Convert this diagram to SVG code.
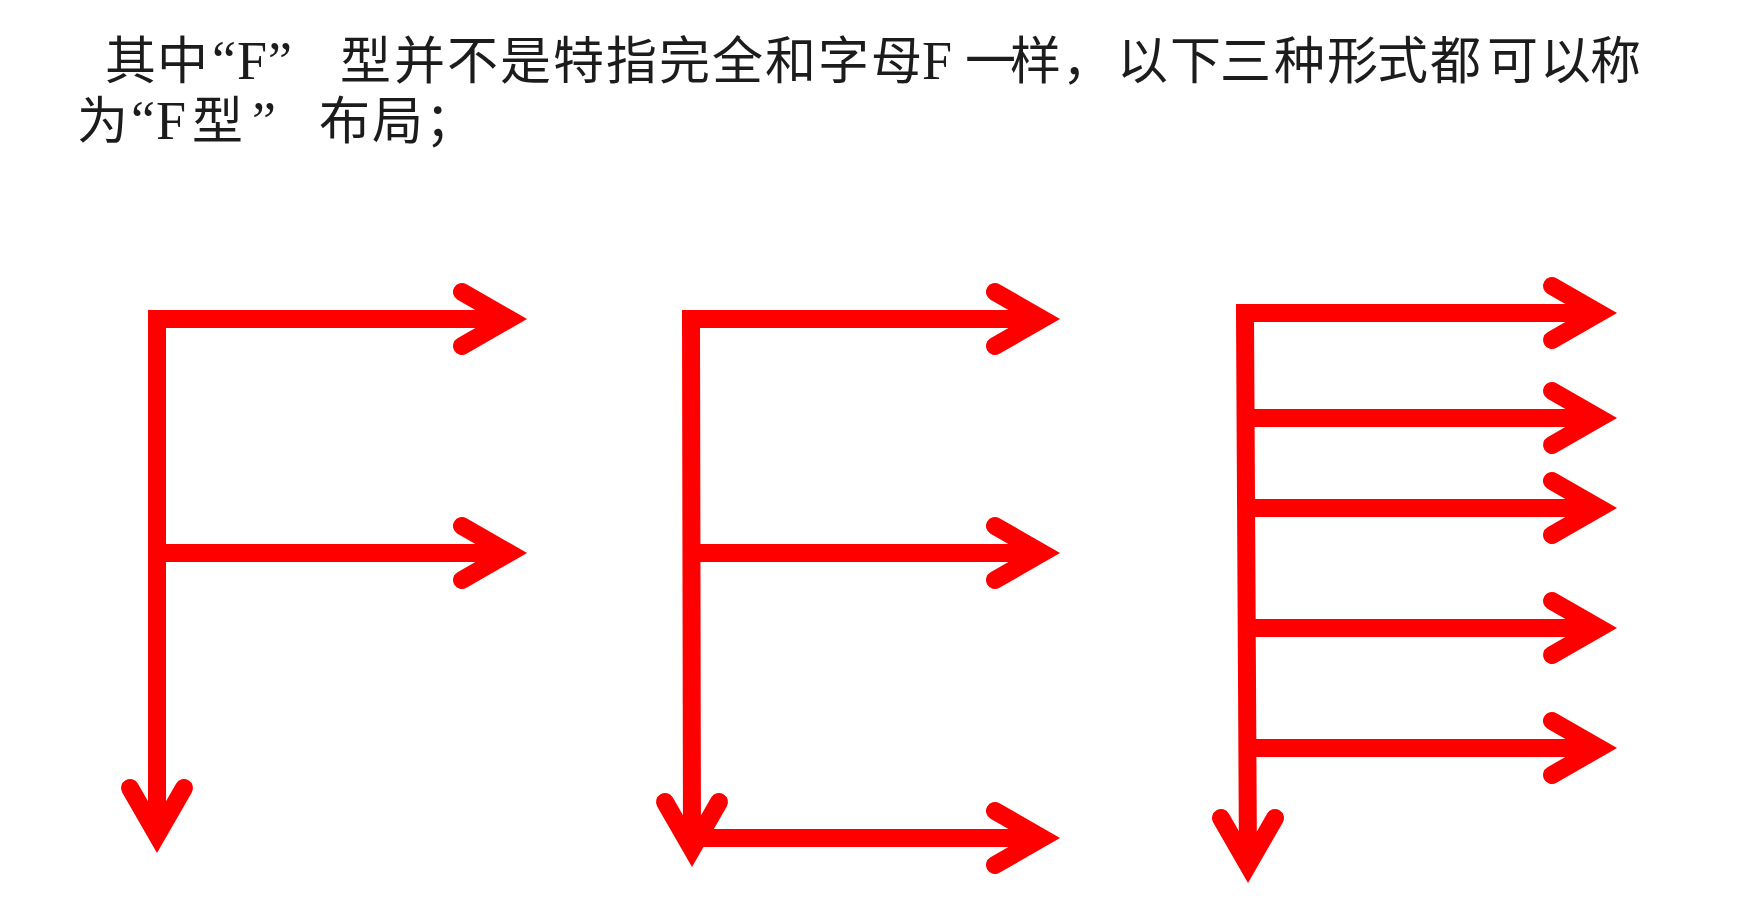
<svg xmlns="http://www.w3.org/2000/svg" xmlns:xlink="http://www.w3.org/1999/xlink" width="1739" height="912" viewBox="0 0 1739 912">
  <style>
    .t { font-family: "Noto Sans CJK SC", sans-serif; font-size: 51px; fill: #1c1c1c; }
    .s { font-family: "Liberation Serif", "Noto Sans CJK SC", serif; font-size: 54px; }
    .bar { fill: none; stroke: #ff0000; stroke-width: 18; stroke-linejoin: miter; stroke-linecap: butt; }
    .head { fill: none; stroke: #ff0000; stroke-width: 18; stroke-linejoin: miter; stroke-miterlimit: 6; stroke-linecap: round; }
  </style>
  <defs>
    <path id="hd" class="head" d="M -65,-27 L -18,0 L -65,27"/>
  </defs>
  <rect width="1739" height="912" fill="#ffffff"/>

  <g id="caption">
    <text class="t" y="79"><tspan x="105 157">其中</tspan><tspan class="s" x="212">“</tspan><tspan class="s" x="237">F</tspan><tspan class="s" x="268">”</tspan><tspan x="340 394 447 500 553 606 659 712 765 818 871">型并不是特指完全和字母</tspan><tspan class="s" x="922">F</tspan><tspan x="965 1010 1062 1117 1170 1220 1274 1327 1377 1430 1487 1540 1590">一样，以下三种形式都可以称</tspan></text>
    <text class="t" y="139"><tspan x="77">为</tspan><tspan class="s" x="131">“</tspan><tspan class="s" x="156">F</tspan><tspan x="192">型</tspan><tspan class="s" x="252">”</tspan><tspan x="319 372 425">布局；</tspan></text>
  </g>

  <g id="connectors">
    <g id="layout1">
      <path class="bar" d="M 509,319 L 157,319 L 157,835"/>
      <path class="bar" d="M 157,553 L 509,553"/>
      <use xlink:href="#hd" href="#hd" transform="translate(527,319)"/>
      <use xlink:href="#hd" href="#hd" transform="translate(527,553)"/>
      <use xlink:href="#hd" href="#hd" transform="translate(157,853) rotate(90)"/>
    </g>
    <g id="layout2">
      <path class="bar" d="M 1042,319 L 691,319 L 692,849"/>
      <path class="bar" d="M 691,553 L 1042,553"/>
      <path class="bar" d="M 692,838 L 1042,838"/>
      <use xlink:href="#hd" href="#hd" transform="translate(1060,319)"/>
      <use xlink:href="#hd" href="#hd" transform="translate(1060,553)"/>
      <use xlink:href="#hd" href="#hd" transform="translate(1060,838)"/>
      <use xlink:href="#hd" href="#hd" transform="translate(692,867) rotate(90)"/>
    </g>
    <g id="layout3">
      <path class="bar" d="M 1599,313 L 1245,313 L 1248,865"/>
      <path class="bar" d="M 1246,418 L 1599,418"/>
      <path class="bar" d="M 1246,508 L 1599,508"/>
      <path class="bar" d="M 1247,628 L 1599,628"/>
      <path class="bar" d="M 1247,748 L 1599,748"/>
      <use xlink:href="#hd" href="#hd" transform="translate(1617,313)"/>
      <use xlink:href="#hd" href="#hd" transform="translate(1617,418)"/>
      <use xlink:href="#hd" href="#hd" transform="translate(1617,508)"/>
      <use xlink:href="#hd" href="#hd" transform="translate(1617,628)"/>
      <use xlink:href="#hd" href="#hd" transform="translate(1617,748)"/>
      <use xlink:href="#hd" href="#hd" transform="translate(1248,883) rotate(90)"/>
    </g>
  </g>
</svg>
